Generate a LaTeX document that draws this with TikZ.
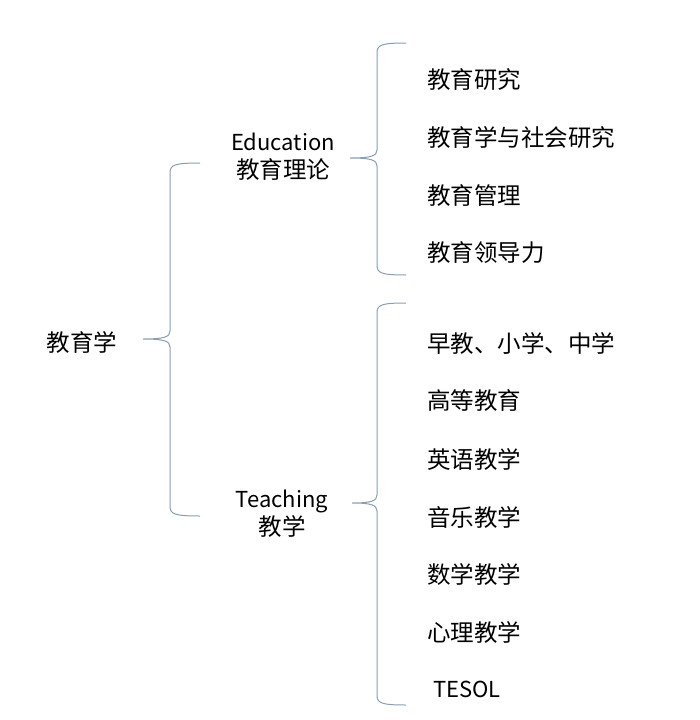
\documentclass[tikz,border=0pt]{standalone}
\usepackage{fontspec}
\setmainfont{Noto Sans CJK SC}
\definecolor{bracegray}{RGB}{138,158,178}
% left brace: right tip x, spine x, middle tip x, top y, middle y, bottom y
\newcommand\leftbrace[6]{%
  \draw[bracegray,line width=1pt]
    (#1,#4) .. controls (#2+4,#4) and (#2,#4+2) .. (#2,#4+10)
    -- (#2,#5-8) .. controls (#2,#5-2) and (#2-6,#5) .. (#3,#5)
    .. controls (#2-6,#5) and (#2,#5+2) .. (#2,#5+8)
    -- (#2,#6-10) .. controls (#2,#6-2) and (#2+4,#6) .. (#1,#6);}
\newcommand\latin[1]{{\fontsize{22}{28}\selectfont #1}}
\tikzset{
  label/.style={inner sep=0pt,font=\fontsize{23.5}{28}\selectfont},
  item/.style={label,anchor=west}
}
\begin{document}
\begin{tikzpicture}[x=1pt,y=-1pt]
  \useasboundingbox[fill=white] (0,0) rectangle (699,720);
  % root
  \node[label] (root) at (82,342) {教育学};
  % branches
  \node[label,align=center] (edu) at (283,157) {\latin{Education}\\教育理论};
  \node[label,align=center] (teach) at (282,514) {\latin{Teaching}\\教学};
  % braces
  \leftbrace{200}{170}{143}{163}{339}{516}
  \leftbrace{406}{377}{350}{43}{158}{275}
  \leftbrace{406}{377}{352}{303}{503}{705}
  % education items
  \node[item] (e1) at (427,80) {教育研究};
  \node[item] (e2) at (427,138) {教育学与社会研究};
  \node[item] (e3) at (427,196) {教育管理};
  \node[item] (e4) at (427,253) {教育领导力};
  % teaching items
  \node[item] (t1) at (427,343) {早教、小学、中学};
  \node[item] (t2) at (427,401) {高等教育};
  \node[item] (t3) at (427,459) {英语教学};
  \node[item] (t4) at (427,517) {音乐教学};
  \node[item] (t5) at (427,574) {数学教学};
  \node[item] (t6) at (427,632) {心理教学};
  \node[item] (t7) at (433,689) {\latin{TESOL}};
\end{tikzpicture}
\end{document}
